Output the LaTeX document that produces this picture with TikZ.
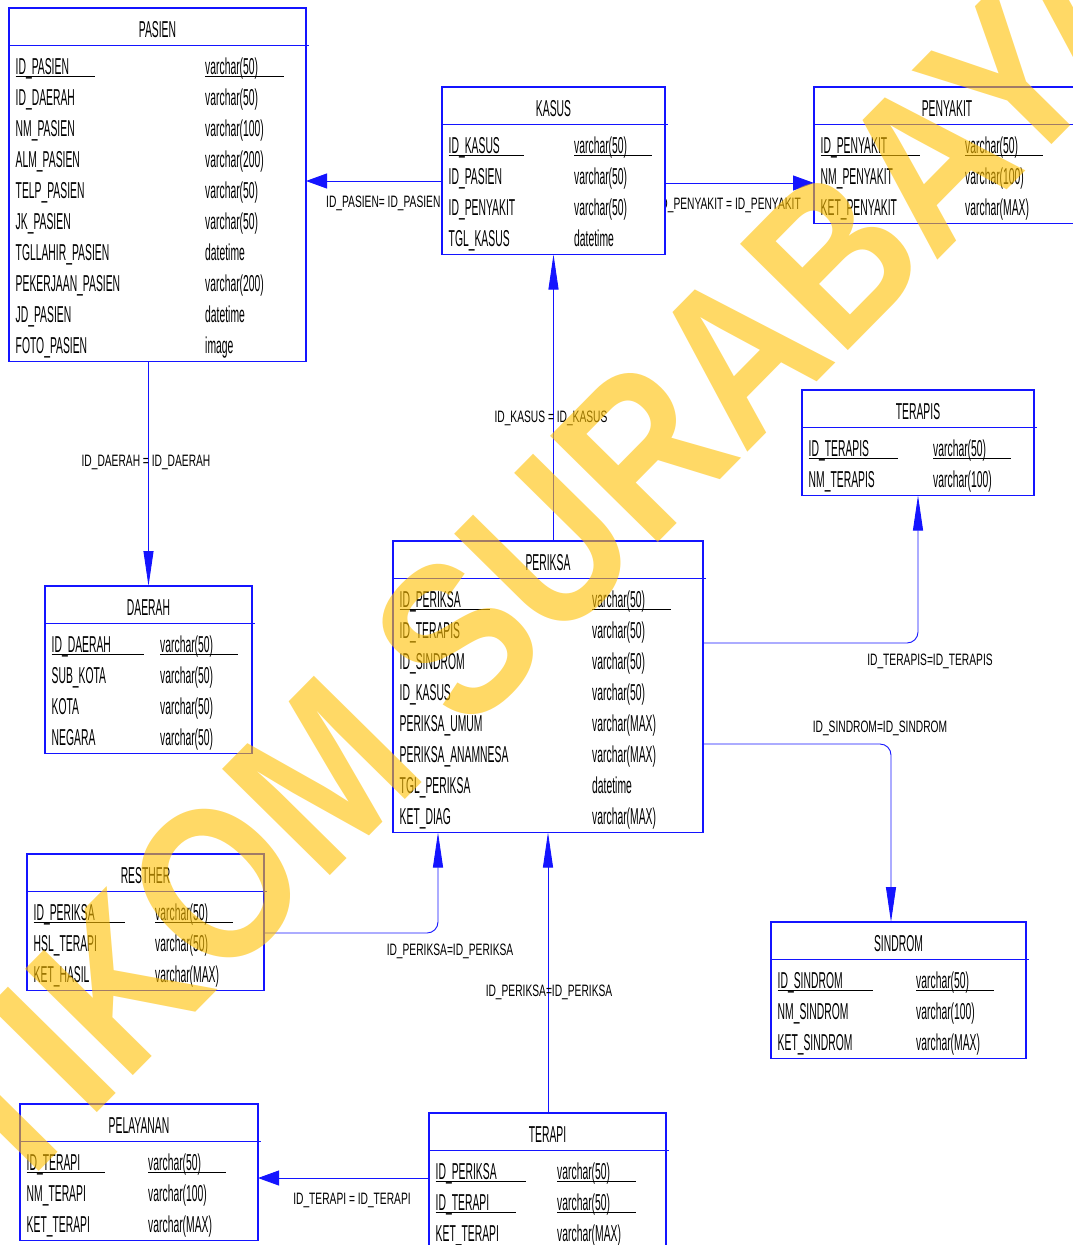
\documentclass[tikz,border=0pt]{standalone}
\usepackage{fontspec}
\setmainfont{Liberation Sans}
\newfontfamily\erfont[FakeStretch=0.45]{Liberation Sans}
\newfontfamily\erlbl[FakeStretch=0.62]{Liberation Sans}
\newfontfamily\wmfont[FakeStretch=0.85]{Liberation Sans}
\usetikzlibrary{arrows.meta}
\definecolor{erblue}{RGB}{20,20,255}
\definecolor{wmyellow}{RGB}{255,192,0}
\pgfdeclarelayer{bg}
\pgfsetlayers{bg,main}
\tikzset{
 tbox/.style={draw=erblue, line width=1.2pt, fill=white, inner sep=0pt, outer sep=0pt},
 tline/.style={draw=erblue, line width=1.2pt},
 fld/.style={font=\erfont\fontsize{23}{23}\selectfont, inner sep=0pt, anchor=base west, text=black},
 ttl/.style={fld, anchor=base},
 ul/.style={draw=black, line width=1.6pt},
 conn/.style={draw=erblue, line width=0.9pt},
 harrow/.style={-{Triangle[length=21pt,width=15pt]}},
 varrow/.style={-{Triangle[length=35pt,width=10pt]}},
 lbl/.style={font=\erlbl\fontsize{16.5}{16.5}\selectfont, inner sep=0pt, text=black},
 wm/.style={font=\wmfont\bfseries\fontsize{220}{220}\selectfont, text=wmyellow, text opacity=0.6, rotate=45.4, inner sep=0pt},
}
% #1 name, #2 left, #3 top, #4 right, #5 nrows, #6 col2 x, #7 title, #8 rows
\newcommand\ertable[8]{%
  \pgfmathsetmacro\erbottom{#3+57.5+31*(#5-1)+17}
  \node[tbox, anchor=north west, minimum width={#4-#2}, minimum height={\erbottom-#3}] (#1) at (#2,#3) {};
  \draw[tline] (#2,#3+37.5) -- (#4+3,#3+37.5);
  \node[ttl] (#1-title) at ({(#2+#4)/2},#3+29.5) {#7};
  \foreach \f/\t [count=\i] in {#8} {
    \node[fld] (#1-\i-a) at (#2+6.5,#3+35+31*\i) {\f};
    \node[fld] (#1-\i-b) at (#6,#3+35+31*\i) {\t};
  }
}
% #1 table, #2 row, #3 len1, #4 len2
\newcommand\pkul[4]{%
  \draw[ul] ([yshift=-2.5pt]#1-#2-a.base west) -- ++(#3,0);
  \draw[ul] ([yshift=-2.5pt]#1-#2-b.base west) -- ++(#4,0);
}
\begin{document}
\begin{tikzpicture}[x=1pt,y=-1pt]
\useasboundingbox (0,0) rectangle (1072,1245);
\begin{pgfonlayer}{bg}
  \fill[white] (0,0) rectangle (1072,1245);
\end{pgfonlayer}

\ertable{pasien}{9}{8}{306}{10}{205}{PASIEN}{ID\_PASIEN/varchar(50), ID\_DAERAH/varchar(50), NM\_PASIEN/varchar(100), ALM\_PASIEN/varchar(200), TELP\_PASIEN/varchar(50), JK\_PASIEN/varchar(50), TGLLAHIR\_PASIEN/datetime, PEKERJAAN\_PASIEN/varchar(200), JD\_PASIEN/datetime, FOTO\_PASIEN/image}
\pkul{pasien}{1}{79}{79}

\ertable{kasus}{442}{87}{665}{4}{574}{KASUS}{ID\_KASUS/varchar(50), ID\_PASIEN/varchar(50), ID\_PENYAKIT/varchar(50), TGL\_KASUS/datetime}
\pkul{kasus}{1}{75}{78}

\ertable{penyakit}{814}{87}{1080}{3}{965}{PENYAKIT}{ID\_PENYAKIT/varchar(50), NM\_PENYAKIT/varchar(100), KET\_PENYAKIT/varchar(MAX)}
\pkul{penyakit}{1}{99}{78}

\ertable{terapis}{802}{390}{1034}{2}{933}{TERAPIS}{ID\_TERAPIS/varchar(50), NM\_TERAPIS/varchar(100)}
\pkul{terapis}{1}{89}{78}

\ertable{periksa}{393}{541}{703}{8}{592}{PERIKSA}{ID\_PERIKSA/varchar(50), ID\_TERAPIS/varchar(50), ID\_SINDROM/varchar(50), ID\_KASUS/varchar(50), PERIKSA\_UMUM/varchar(MAX), PERIKSA\_ANAMNESA/varchar(MAX), TGL\_PERIKSA/datetime, KET\_DIAG/varchar(MAX)}
\pkul{periksa}{1}{90}{79}

\ertable{daerah}{45}{586}{252}{4}{160}{DAERAH}{ID\_DAERAH/varchar(50), SUB\_KOTA/varchar(50), KOTA/varchar(50), NEGARA/varchar(50)}
\pkul{daerah}{1}{92}{78}

\ertable{resther}{27}{854}{264}{3}{155}{RESTHER}{ID\_PERIKSA/varchar(50), HSL\_TERAPI/varchar(50), KET\_HASIL/varchar(MAX)}
\pkul{resther}{1}{91}{78}

\ertable{sindrom}{771}{922}{1026}{3}{916}{SINDROM}{ID\_SINDROM/varchar(50), NM\_SINDROM/varchar(100), KET\_SINDROM/varchar(MAX)}
\pkul{sindrom}{1}{95}{78}

\ertable{pelayanan}{20}{1104}{258}{3}{148}{PELAYANAN}{ID\_TERAPI/varchar(50), NM\_TERAPI/varchar(100), KET\_TERAPI/varchar(MAX)}
\pkul{pelayanan}{1}{78}{78}

\ertable{terapi}{429}{1113}{666}{3}{557}{TERAPI}{ID\_PERIKSA/varchar(50), ID\_TERAPI/varchar(50), KET\_TERAPI/varchar(MAX)}
\pkul{terapi}{1}{90}{79}
\pkul{terapi}{2}{80}{79}

\begin{pgfonlayer}{bg}
  % connectors
  \draw[conn, harrow] (kasus.west |- 0,181) -- (pasien.east |- 0,181);
  \draw[conn, harrow] (kasus.east |- 0,183) -- (penyakit.west |- 0,183);
  \draw[conn, varrow] (kasus.south |- periksa.north) -- (kasus.south);
  \draw[conn, varrow] (daerah.north |- pasien.south) -- (daerah.north);
  \draw[conn, varrow, rounded corners=11pt] (periksa.east |- 0,643) -| (terapis.south);
  \draw[conn, varrow, rounded corners=11pt] (periksa.east |- 0,744) -| (891,0 |- sindrom.north);
  \draw[conn, varrow, rounded corners=11pt] (resther.east |- 0,933) -| (438,0 |- periksa.south);
  \draw[conn, varrow] (periksa.south |- terapi.north) -- (periksa.south);
  \draw[conn, harrow] (terapi.west |- 0,1178) -- (pelayanan.east |- 0,1178);
  % labels
  \node[lbl, anchor=west] (l1) at (326,203) {ID\_PASIEN= ID\_PASIEN};
  \node[lbl, anchor=east] (l2) at (801,205) {ID\_PENYAKIT = ID\_PENYAKIT};
  \node[lbl] (l3) at (551,418) {ID\_KASUS = ID\_KASUS};
  \node[lbl] (l4) at (146,462) {ID\_DAERAH = ID\_DAERAH};
  \node[lbl] (l5) at (930,661) {ID\_TERAPIS=ID\_TERAPIS};
  \node[lbl] (l6) at (880,728) {ID\_SINDROM=ID\_SINDROM};
  \node[lbl] (l7) at (450,951) {ID\_PERIKSA=ID\_PERIKSA};
  \node[lbl] (l8) at (549,992) {ID\_PERIKSA=ID\_PERIKSA};
  \node[lbl] (l9) at (352,1200) {ID\_TERAPI = ID\_TERAPI};
\end{pgfonlayer}

% watermark
\node[wm] (wmark) at (500,596) {STIKOM SURABAYA};
\end{tikzpicture}
\end{document}
